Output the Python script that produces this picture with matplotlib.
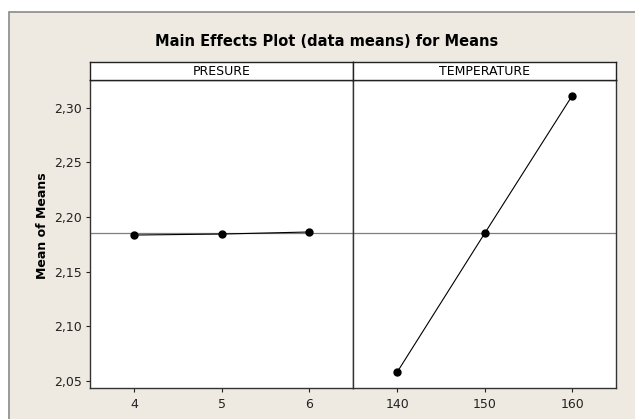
import matplotlib
matplotlib.use('Agg')
import matplotlib.pyplot as plt
from matplotlib.patches import Rectangle
from matplotlib.ticker import FuncFormatter

# data
factors = ['PRESURE', 'TEMPERATURE']
pressure_levels = [4, 5, 6]
pressure_means = [2.1835, 2.1844, 2.1863]
temp_levels = [140, 150, 160]
temp_means = [2.058, 2.185, 2.311]
grand_mean = 2.185
y_ticks = [2.05, 2.10, 2.15, 2.20, 2.25, 2.30]

BG = '#EEEAE1'
W, H = 635, 419

fig = plt.figure(figsize=(6.35, 4.19), dpi=100)
fig.patch.set_facecolor('white')

# outer frame
fig.patches.append(Rectangle((9 / W, -0.05), 1.0, 1 - 12 / H + 0.05, transform=fig.transFigure,
                             facecolor=BG, edgecolor='#8a8a8a', linewidth=1.2, zorder=-10))

left, mid, right = 90 / W, 353.3 / W, 616 / W
bottom, top, strip_top = 1 - 388 / H, 1 - 80 / H, 1 - 62 / H

ax1 = fig.add_axes([left, bottom, mid - left, top - bottom])
ax2 = fig.add_axes([mid, bottom, right - mid, top - bottom], sharey=ax1)

panels = [(ax1, pressure_levels, pressure_means, (3.5, 6.5)),
          (ax2, temp_levels, temp_means, (135, 165))]

for ax, lv, mv, xl in panels:
    ax.set_facecolor('white')
    ax.axhline(grand_mean, color='#7f7f7f', linewidth=0.9, zorder=1)
    ax.plot(lv, mv, color='black', linewidth=0.8, marker='o', markersize=5, zorder=3)
    ax.set_xlim(*xl)
    ax.set_xticks(lv)
    ax.tick_params(axis='x', direction='out', length=3, width=0.8, labelsize=9, pad=4, colors='#222222')
    for s in ax.spines.values():
        s.set_color('#333333')
        s.set_linewidth(1.0)

ax1.set_ylim(2.0436, 2.3253)
ax1.set_yticks(y_ticks)
ax1.yaxis.set_major_formatter(FuncFormatter(lambda v, p: f'{v:.2f}'.replace('.', ',')))
ax1.tick_params(axis='y', direction='out', length=3, width=0.8, labelsize=9, pad=3, colors='#222222')
ax2.tick_params(axis='y', left=False, labelleft=False)
ax1.set_ylabel('Mean of Means', fontsize=9, fontweight='bold')
ax1.yaxis.set_label_coords(-41 / (353.3 - 90), (388 - 226) / (388 - 80))

# strips
for x0, x1, name in [(left, mid, factors[0]), (mid, right, factors[1])]:
    sax = fig.add_axes([x0, top, x1 - x0, strip_top - top])
    sax.set_facecolor('white')
    sax.set_xticks([])
    sax.set_yticks([])
    for s in sax.spines.values():
        s.set_color('#222222')
        s.set_linewidth(1.0)
    sax.text(0.5, 0.45, name, ha='center', va='center', fontsize=9, transform=sax.transAxes)

fig.text(327 / W, 1 - 41 / H, 'Main Effects Plot (data means) for Means',
         ha='center', va='center', fontsize=10.5, fontweight='bold')

plt.savefig('out.png', dpi=100, facecolor=fig.get_facecolor())
